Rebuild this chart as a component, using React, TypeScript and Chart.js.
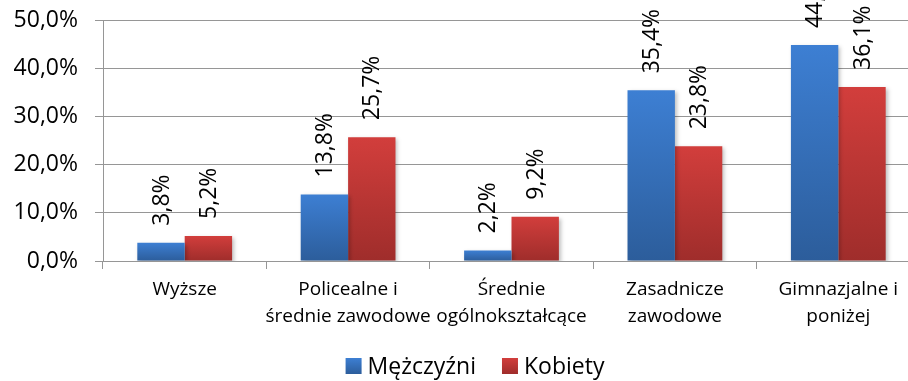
import React, { useEffect, useRef } from "react";
import { Chart, registerables } from "chart.js";

Chart.register(...registerables);

const categories: (string | string[])[] = [
  "Wyższe",
  ["Policealne i", "średnie zawodowe"],
  ["Średnie", "ogólnokształcące"],
  ["Zasadnicze", "zawodowe"],
  ["Gimnazjalne i", "poniżej"],
];
const men = [3.8, 13.8, 2.2, 35.4, 44.8];
const women = [5.2, 25.7, 9.2, 23.8, 36.1];
const seriesNames = ["Mężczyźni", "Kobiety"];
const yTicks = [0, 10, 20, 30, 40, 50];

const FONT = "'Open Sans', sans-serif";
const fmt = (v: number) => v.toFixed(1).replace(".", ",") + "%";

function barGradient(top: string, bottom: string) {
  return (ctx: any) => {
    const chart = ctx.chart;
    const area = chart.chartArea;
    if (!area || ctx.type !== "data") return top;
    const ys = chart.scales.y;
    const v = ctx.raw as number;
    const yTop = ys.getPixelForValue(v);
    const yBot = ys.getPixelForValue(0);
    if (!isFinite(yTop) || Math.abs(yBot - yTop) < 1) return top;
    const g = chart.ctx.createLinearGradient(0, yTop, 0, yBot);
    g.addColorStop(0, top);
    g.addColorStop(1, bottom);
    return g;
  };
}

const labelPlugin = {
  id: "rotLabels",
  afterDatasetsDraw(chart: any) {
    const ctx = chart.ctx;
    ctx.save();
    ctx.fillStyle = "#000";
    ctx.font = `23px ${FONT}`;
    ctx.textAlign = "left";
    ctx.textBaseline = "middle";
    chart.data.datasets.forEach((ds: any, i: number) => {
      const meta = chart.getDatasetMeta(i);
      meta.data.forEach((el: any, j: number) => {
        ctx.save();
        ctx.translate(el.x, el.y - 17);
        ctx.rotate(-Math.PI / 2);
        ctx.fillText(fmt(ds.data[j]), 0, 1);
        ctx.restore();
      });
    });
    ctx.restore();
  },
};

const legendPlugin = {
  id: "customLegend",
  afterDraw(chart: any) {
    const ctx = chart.ctx;
    ctx.save();
    ctx.font = `23px ${FONT}`;
    ctx.textBaseline = "middle";
    ctx.textAlign = "left";
    const box = 16;
    const gapBoxText = 6;
    const gapItems = 26;
    const widths = seriesNames.map((n) => box + gapBoxText + ctx.measureText(n).width);
    const total = widths.reduce((a, b) => a + b, 0) + gapItems * (seriesNames.length - 1);
    let x = 475 - total / 2;
    const cy = 366;
    seriesNames.forEach((n, i) => {
      const g = ctx.createLinearGradient(0, cy - box / 2, 0, cy + box / 2);
      g.addColorStop(0, i === 0 ? "#3d7fd3" : "#d23e3c");
      g.addColorStop(1, i === 0 ? "#2c5d9b" : "#9f2d2b");
      ctx.fillStyle = g;
      ctx.fillRect(x, cy - box / 2, box, box);
      ctx.fillStyle = "#000";
      ctx.fillText(n, x + box + gapBoxText, cy + 1);
      x += widths[i] + gapItems;
    });
    ctx.restore();
  },
};

const shadowPlugin = {
  id: "barShadow",
  beforeDatasetsDraw(chart: any) {
    const ctx = chart.ctx;
    ctx.save();
    ctx.shadowColor = "rgba(0,0,0,0.25)";
    ctx.shadowBlur = 4;
    ctx.shadowOffsetX = 2;
    ctx.shadowOffsetY = 2;
  },
  afterDatasetsDraw(chart: any) {
    chart.ctx.restore();
  },
};

export default function App() {
  const ref = useRef<HTMLCanvasElement | null>(null);
  useEffect(() => {
    if (!ref.current) return;
    const chart = new Chart(ref.current, {
      type: "bar",
      data: {
        labels: categories,
        datasets: [
          {
            label: seriesNames[0],
            data: men,
            backgroundColor: barGradient("#3d7fd3", "#2c5d9b"),
            borderWidth: 0,
          },
          {
            label: seriesNames[1],
            data: women,
            backgroundColor: barGradient("#d23e3c", "#9f2d2b"),
            borderWidth: 0,
          },
        ],
      },
      options: {
        animation: false,
        responsive: false,
        maintainAspectRatio: false,
        layout: { padding: { top: 20, right: 30, bottom: 0, left: 0 } },
        datasets: {
          bar: { categoryPercentage: 0.58, barPercentage: 1 },
        },
        scales: {
          x: {
            grid: {
              display: true,
              drawOnChartArea: false,
              offset: true,
              tickLength: 8,
              color: "#969696",
            },
            border: { color: "#969696", width: 1 },
            ticks: {
              color: "#000",
              font: { family: FONT, size: 19, lineHeight: 1.42 },
              maxRotation: 0,
              autoSkip: false,
              padding: 7,
            },
            afterFit: (s: any) => {
              s.height = 120;
              s.paddingLeft = 0;
              s.paddingRight = 0;
            },
          },
          y: {
            min: 0,
            max: 50,
            afterBuildTicks: (s: any) => {
              s.ticks = yTicks.map((v) => ({ value: v }));
            },
            grid: { color: "#969696", tickLength: 8 },
            border: { color: "#969696", width: 1 },
            ticks: {
              color: "#000",
              font: { family: FONT, size: 23 },
              padding: 17,
              callback: (v: any) => fmt(Number(v)),
            },
            afterFit: (s: any) => {
              s.width = 103;
              s.paddingTop = 0;
              s.paddingBottom = 0;
            },
          },
        },
        plugins: {
          legend: { display: false },
          tooltip: { enabled: false },
        },
      },
      plugins: [shadowPlugin, labelPlugin, legendPlugin],
    });
    return () => chart.destroy();
  }, []);
  return (
    <div
      style={{
        position: "absolute",
        left: 0,
        top: 0,
        width: 908,
        height: 381,
        overflow: "hidden",
        background: "#fff",
      }}
    >
      <canvas ref={ref} width={950} height={381} style={{ display: "block" }} />
    </div>
  );
}
